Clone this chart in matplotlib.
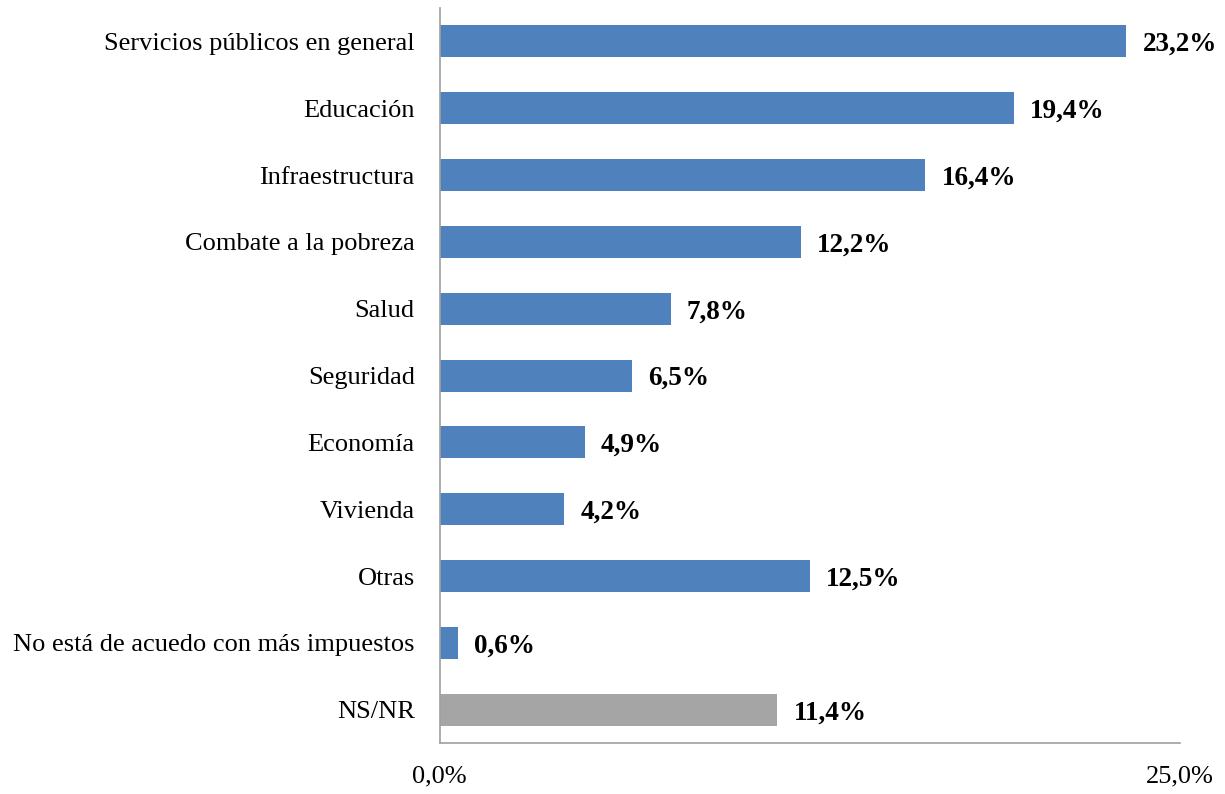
import numpy as np
import matplotlib.pyplot as plt

plt.rcParams['font.family'] = ['Liberation Serif', 'DejaVu Serif']

categorias = ["Servicios públicos en general", "Educación", "Infraestructura",
              "Combate a la pobreza", "Salud", "Seguridad", "Economía", "Vivienda",
              "Otras", "No está de acuedo con más impuestos", "NS/NR"]
valores = [23.2, 19.4, 16.4, 12.2, 7.8, 6.5, 4.9, 4.2, 12.5, 0.6, 11.4]
colores = ['#4F81BD'] * 10 + ['#A5A5A5']

fig = plt.figure(figsize=(12.25, 7.94), dpi=100)
ax = fig.add_axes([0.359, 0.064, 0.604, 0.926])

y = np.arange(len(categorias))
ax.barh(y, valores, height=0.48, color=colores)
for yi, v in zip(y, valores):
    ax.text(v + 0.55, yi, f"{v:.1f}%".replace('.', ','), va='center_baseline', ha='left',
            fontsize=19.5, fontweight='bold')

ax.set_ylim(len(categorias) - 0.5, -0.5)
ax.set_xlim(0, 25)
ax.set_yticks(y)
ax.set_yticklabels(categorias, fontsize=19)
ax.set_xticks([0, 25])
ax.set_xticklabels(["0,0%", "25,0%"], fontsize=19)
ax.tick_params(axis='both', length=0)
ax.tick_params(axis='y', pad=18)
ax.tick_params(axis='x', pad=16)
for s in ['top', 'right']:
    ax.spines[s].set_visible(False)
for s in ['left', 'bottom']:
    ax.spines[s].set_color('#A0A0A0')
    ax.spines[s].set_linewidth(1.2)

fig.savefig('out.png', dpi=100)
